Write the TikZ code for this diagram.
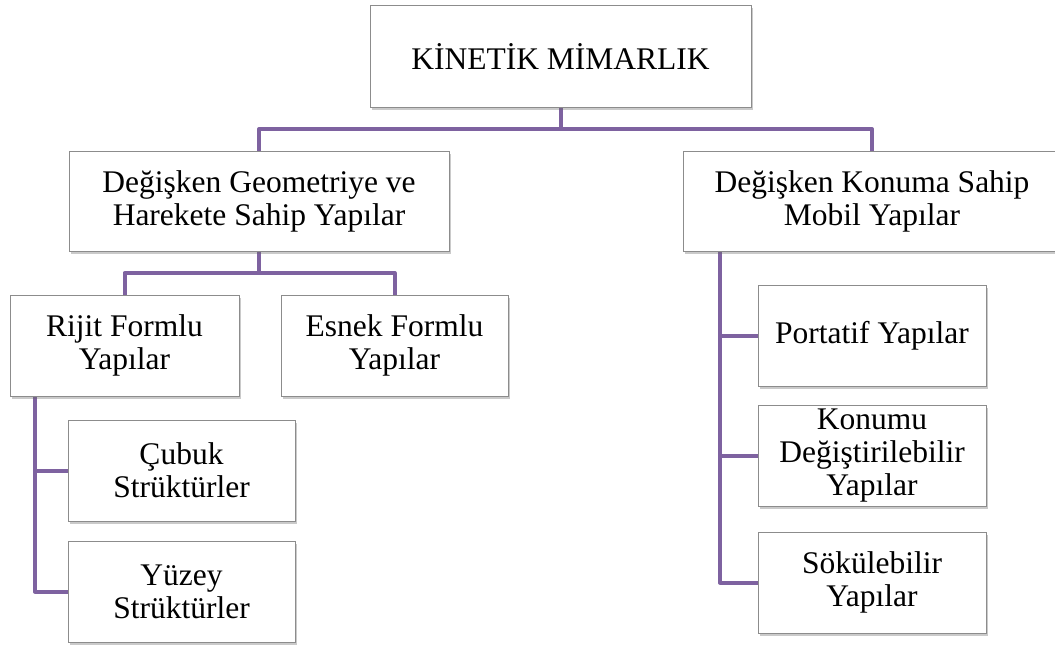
\documentclass[tikz,border=0pt]{standalone}
\usepackage{fontspec}
\setmainfont{Liberation Serif}
\usetikzlibrary{shadows,backgrounds}
\definecolor{conncol}{HTML}{7E62A0}
\definecolor{boxborder}{HTML}{8C8C8C}
\tikzset{
  box/.style={draw=boxborder, line width=1pt, fill=white, align=center, inner sep=0pt,
    font=\fontsize{31.5}{33}\selectfont,
    drop shadow={shadow xshift=1.5pt, shadow yshift=-2.5pt, opacity=0.35, fill=black!60}},
  conn/.style={draw=conncol, line width=4pt, line join=round}
}
\begin{document}
\begin{tikzpicture}[x=1pt,y=-1pt]
\useasboundingbox (0,0) rectangle (1055,646);
\node[box, minimum width=381pt, minimum height=102pt] (top) at (560.5,56) {KİNETİK MİMARLIK};
\node[box, minimum width=380pt, minimum height=100pt] (geo) at (259,201) {Değişken Geometriye ve\\Harekete Sahip Yapılar};
\node[box, minimum width=378pt, minimum height=100pt] (mob) at (872,201) {Değişken Konuma Sahip\\Mobil Yapılar};
\node[box, minimum width=229pt, minimum height=101pt] (rij) at (124.5,345.5) {Rijit Formlu\\Yapılar};
\node[box, minimum width=227pt, minimum height=101pt] (esn) at (394.5,345.5) {Esnek Formlu\\Yapılar};
\node[box, minimum width=227pt, minimum height=101pt] (cub) at (181.5,470.5) {Çubuk\\Strüktürler};
\node[box, minimum width=227pt, minimum height=101pt] (yuz) at (181.5,591.5) {Yüzey\\Strüktürler};
\node[box, minimum width=228pt, minimum height=101pt] (por) at (872,335.5) {Portatif Yapılar};
\node[box, minimum width=228pt, minimum height=101pt] (kon) at (872,455.5) {Konumu\\Değiştirilebilir\\Yapılar};
\node[box, minimum width=228pt, minimum height=101pt] (sok) at (872,582.5) {Sökülebilir\\Yapılar};
\coordinate (j1) at (560.5,129);
\coordinate (j2) at (259,273);
\coordinate (r0) at (35,396);
\coordinate (m0) at (720,251);
\begin{scope}[on background layer]
\draw[conn] (top.south) -- (j1);
\draw[conn] (geo.north) |- (j1);
\draw[conn] (mob.north) |- (j1);
\draw[conn] (geo.south) -- (j2);
\draw[conn] (rij.north) |- (j2);
\draw[conn] (esn.north) |- (j2);
\draw[conn] (r0) |- (cub.west);
\draw[conn] (r0) |- (yuz.west);
\draw[conn] (m0) |- (por.west);
\draw[conn] (m0) |- (kon.west);
\draw[conn] (m0) |- (sok.west);
\end{scope}
\end{tikzpicture}
\end{document}
